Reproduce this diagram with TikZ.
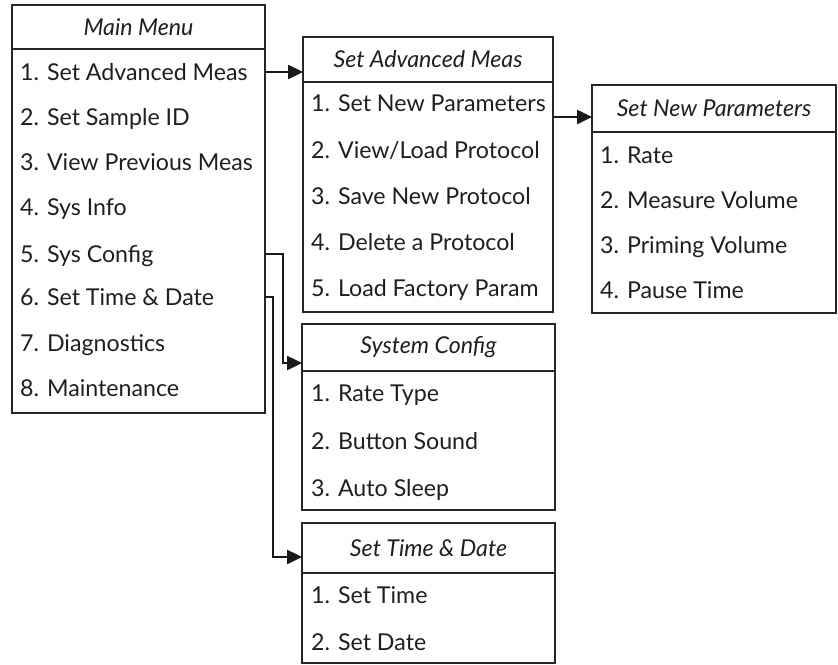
\documentclass[tikz,border=0pt]{standalone}
\usepackage{fontspec}
\setmainfont{Lato}
\usetikzlibrary{arrows.meta,calc}
\begin{document}
\begin{tikzpicture}[x=1pt,y=-1pt,
  frame/.style={draw=black!85, line width=1.3pt, inner sep=0pt, outer sep=0pt, anchor=north west},
  ttl/.style={font=\fontsize{23.2}{27}\selectfont\itshape, text=black!88},
  itm/.style={font=\fontsize{23.2}{27}\selectfont, text=black!88, inner sep=0pt,
              anchor=west, text height=17pt, text depth=0pt},
  conn/.style={draw=black!90, line width=2.5pt, -{Triangle[length=15pt,width=14pt]}},
]
\useasboundingbox (0,0) rectangle (838,664);

% Main menu
\node[frame, ttl, minimum width=253, minimum height=44] (mainT) at (12,5) {Main Menu};
\node[frame, minimum width=253, minimum height=364] (mainB) at (12,49) {};
\node[itm] (m1) at (20,72)  {1. Set Advanced Meas};
\node[itm] (m2) at (20,117) {2. Set Sample ID};
\node[itm] (m3) at (20,162) {3. View Previous Meas};
\node[itm] (m4) at (20,207) {4. Sys Info};
\node[itm] (m5) at (20,254) {5. Sys Config};
\node[itm] (m6) at (20,297) {6. Set Time \& Date};
\node[itm] (m7) at (20,343) {7. Diagnostics};
\node[itm] (m8) at (20,388) {8. Maintenance};

% Set Advanced Meas
\node[frame, ttl, minimum width=250, minimum height=45] (advT) at (303,37) {Set Advanced Meas};
\node[frame, minimum width=250, minimum height=230] (advB) at (303,82) {};
\node[itm] (a1) at (311,103) {1. Set New Parameters};
\node[itm] (a2) at (311,150) {2. View/Load Protocol};
\node[itm] (a3) at (311,196) {3. Save New Protocol};
\node[itm] (a4) at (311,242) {4. Delete a Protocol};
\node[itm] (a5) at (311,288) {5. Load Factory Param};

% Set New Parameters
\node[frame, ttl, minimum width=244, minimum height=47] (snpT) at (592,85) {Set New Parameters};
\node[frame, minimum width=244, minimum height=181] (snpB) at (592,132) {};
\node[itm] (p1) at (600,155) {1. Rate};
\node[itm] (p2) at (600,200) {2. Measure Volume};
\node[itm] (p3) at (600,245) {3. Priming Volume};
\node[itm] (p4) at (600,290) {4. Pause Time};

% System Config
\node[frame, ttl, minimum width=253, minimum height=47] (scT) at (302,324) {System Config};
\node[frame, minimum width=253, minimum height=139] (scB) at (302,371) {};
\node[itm] (c1) at (311,393) {1. Rate Type};
\node[itm] (c2) at (311,441) {2. Button Sound};
\node[itm] (c3) at (311,488) {3. Auto Sleep};

% Set Time & Date
\node[frame, ttl, minimum width=253, minimum height=50] (stdT) at (302,523) {Set Time \& Date};
\node[frame, minimum width=253, minimum height=90] (stdB) at (302,573) {};
\node[itm] (d1) at (311,595) {1. Set Time};
\node[itm] (d2) at (311,642) {2. Set Date};

% Connectors
\draw[conn] (m1.east -| mainB.east) -- (m1.east -| advT.west);
\draw[conn] ($(a1.east -| advB.east)+(0,14)$) -- ($(a1.east -| snpT.west)+(0,14)$);
\draw[conn] (m5.east -| mainB.east) -- ++(18,0) |- ($(scT.south west)+(0,-8)$);
\draw[conn] (m6.east -| mainB.east) -- ++(8,0) |- ($(stdT.south west)+(0,-16)$);
\end{tikzpicture}
\end{document}
